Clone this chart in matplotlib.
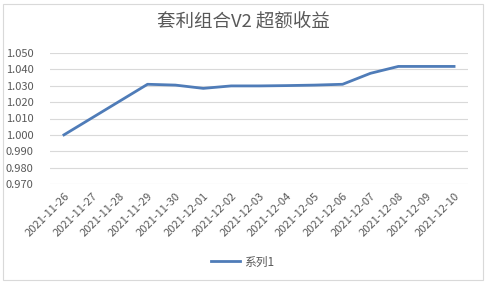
import matplotlib
matplotlib.use('Agg')
import matplotlib.pyplot as plt
from matplotlib.patches import Rectangle
from matplotlib.ticker import FormatStrFormatter

plt.rcParams['font.family'] = ['Noto Sans CJK SC', 'DejaVu Sans']

dates = ['2021-11-26', '2021-11-27', '2021-11-28', '2021-11-29', '2021-11-30',
         '2021-12-01', '2021-12-02', '2021-12-03', '2021-12-04', '2021-12-05',
         '2021-12-06', '2021-12-07', '2021-12-08', '2021-12-09', '2021-12-10']
values = [1.0000, 1.0103, 1.0206, 1.0309, 1.0304, 1.0284, 1.0299, 1.0299,
          1.0301, 1.0304, 1.0309, 1.0376, 1.0418, 1.0418, 1.0418]
yticks = [0.970, 0.980, 0.990, 1.000, 1.010, 1.020, 1.030, 1.040, 1.050]

txt = '#595959'
grid = '#d9d9d9'

fig = plt.figure(figsize=(4.86, 2.83), dpi=100)
fig.patches.append(Rectangle((3 / 486, 3 / 283), 480 / 486, 276 / 283,
                             transform=fig.transFigure, fill=False,
                             edgecolor=grid, linewidth=0.8))

ax = fig.add_axes([50 / 486, 1 - 184 / 283, 418 / 486, 131 / 283])
x = list(range(len(dates)))
line, = ax.plot(x, values, color='#4f7cb8', linewidth=2.0, label='系列1')

ax.set_xlim(-0.5, len(dates) - 0.5)
ax.set_ylim(0.970, 1.050)
ax.set_yticks(yticks)
ax.yaxis.set_major_formatter(FormatStrFormatter('%.3f'))
ax.set_xticks(x)
ax.set_xticklabels(dates, rotation=45, ha='right', rotation_mode='anchor')
ax.tick_params(axis='both', length=0, colors=txt, labelsize=8)
ax.tick_params(axis='y', pad=12)
ax.tick_params(axis='x', pad=5)
ax.grid(axis='y', color=grid, linewidth=0.8)
for s in ax.spines.values():
    s.set_visible(False)
ax.set_axisbelow(True)

fig.text(0.5, 1 - 22 / 283, '套利组合V2 超额收益', ha='center', va='center',
         color=txt, fontsize=13.3)

fig.legend(handles=[line], loc='center', bbox_to_anchor=(0.5, 1 - 262 / 283),
           frameon=False, fontsize=8.5, labelcolor=txt, handlelength=2.4,
           handletextpad=0.4)

fig.savefig('out.png', dpi=100)
